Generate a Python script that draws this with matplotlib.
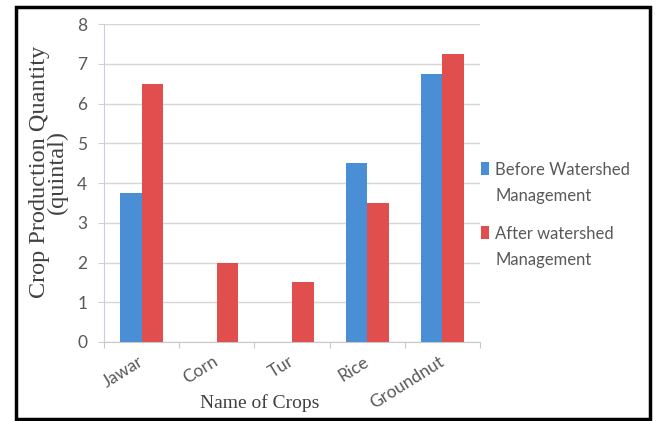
import matplotlib
matplotlib.use("Agg")
import matplotlib.pyplot as plt
import numpy as np
from matplotlib.patches import Rectangle
from matplotlib.legend_handler import HandlerPatch, update_from_first_child
from matplotlib.container import BarContainer

crops = ["Jawar", "Corn", "Tur", "Rice", "Groundnut"]
before = [3.75, 0, 0, 4.5, 6.75]
after = [6.5, 2, 1.5, 3.5, 7.25]
series_labels = ["Before Watershed\nManagement", "After watershed\nManagement"]
yticks = [0, 1, 2, 3, 4, 5, 6, 7, 8]

BLUE = "#4A8FD6"
RED = "#E04E4E"
TXT = "#595959"

fig = plt.figure(figsize=(6.59, 4.21), dpi=100)
fig.patch.set_facecolor("white")
ax = fig.add_axes([104/659, 1-342/421, (480-104)/659, (342-24)/421])

x = np.arange(len(crops))
w = 0.286
ax.bar(x - w/2, before, w, color=BLUE, label=series_labels[0], zorder=3)
ax.bar(x + w/2, after, w, color=RED, label=series_labels[1], zorder=3)

ax.set_xlim(-0.5, len(crops) - 0.5)
ax.set_ylim(0, 8)
ax.set_yticks(yticks)
ax.set_yticklabels([str(v) for v in yticks], fontsize=12.5, color=TXT, family="Lato")
ax.tick_params(axis="y", length=4, color="#d0d0d0", pad=8)
ax.grid(axis="y", color="#d6d6d6", linewidth=1, zorder=0)

ax.set_xticks(np.arange(len(crops) + 1) - 0.5)
ax.set_xticklabels([])
ax.tick_params(axis="x", which="major", length=4, color="#c8c8c8", direction="out")
ax.set_xticks(x, minor=True)
ax.set_xticklabels(crops, minor=True, rotation=32, ha="right", va="center",
                   rotation_mode="anchor", fontsize=12.5, color=TXT, family="Lato")
ax.tick_params(axis="x", which="minor", length=0, pad=13)

for s in ["top", "right"]:
    ax.spines[s].set_visible(False)
ax.spines["left"].set_color("#c8d0dc")
ax.spines["bottom"].set_color("#c8c8c8")

ax.set_ylabel("Crop Production Quantity\n(quintal)", family="Liberation Serif",
              fontsize=17.5, color="#404040", linespacing=0.85)
ax.yaxis.set_label_coords(-0.095, 0.535)
ax.set_xlabel("Name of Crops", family="Liberation Serif", fontsize=14, color="#404040")
ax.xaxis.set_label_coords(0.415, -0.165)


def top_square(legend, orig_handle, xdescent, ydescent, width, height, fontsize):
    return Rectangle((-xdescent, -ydescent + fontsize * 0.9), width, height)


leg = ax.legend(loc="upper left", bbox_to_anchor=(481/659, 1-162/421),
                bbox_transform=fig.transFigure, frameon=False,
                prop={"family": "Lato", "size": 12}, labelcolor=TXT,
                handlelength=0.5, handleheight=0.8, handletextpad=0.35,
                labelspacing=1.32, borderpad=0, borderaxespad=0,
                handler_map={BarContainer: HandlerPatch(patch_func=top_square,
                                                        update_func=update_from_first_child)})
for t in leg.get_texts():
    t.set_linespacing(1.75)

fig.patches.append(Rectangle((16/659, 1-419/421), (650-16)/659, (419-7)/421,
                             transform=fig.transFigure, fill=False,
                             edgecolor="black", linewidth=2.5, zorder=10))

fig.savefig("out.png", dpi=100)
